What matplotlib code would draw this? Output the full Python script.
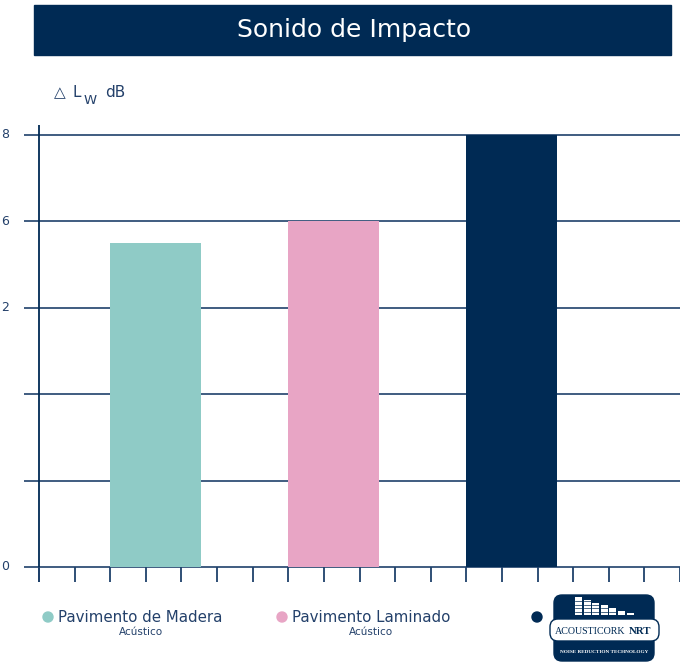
import matplotlib
matplotlib.use("Agg")
import matplotlib.pyplot as plt
from matplotlib.patches import Rectangle, FancyBboxPatch, Circle
import matplotlib.transforms as mtransforms

# ---- data ----
title = "Sonido de Impacto"
categories = ["Pavimento de Madera", "Pavimento Laminado", "Acousticork NRT"]
subtitles = ["Acústico", "Acústico", ""]
values = [3.75, 4.0, 5.0]            # in grid units (one unit per gridline)
bar_left = [2, 7, 12]                # left edge in tick units
bar_colors = ["#8fcbc6", "#e8a5c5", "#002a54"]
ytick_pos = [5, 4, 3, 0]
ytick_labels = ["8", "6", "2", "0"]
grid_levels = [0, 1, 2, 3, 4, 5]
n_ticks = 18

NAVY = "#002a54"
GRID = "#1f416b"
TEXT = "#23406a"

W, H = 699, 663
fig = plt.figure(figsize=(W / 100, H / 100), dpi=100)

# main axes in pixel geometry
ax_l, ax_r, ax_t, ax_b = 24, 680, 125, 582
ax = fig.add_axes([ax_l / W, 1 - ax_b / H, (ax_r - ax_l) / W, (ax_b - ax_t) / H])
x0_px, unit_x = 39, (680 - 39) / n_ticks
y0_px, unit_y = 567, (567 - 135) / 5
ax.set_xlim(-(x0_px - ax_l) / unit_x, n_ticks)
ax.set_ylim(-(ax_b - y0_px) / unit_y, 5 + (135 - ax_t) / unit_y)
for s in ax.spines.values():
    s.set_visible(False)
ax.set_xticks([])
ax.set_yticks([])
ax.patch.set_alpha(0)

xmin, xmax = ax.get_xlim()
ymin, ymax = ax.get_ylim()
ax.hlines(grid_levels, xmin, xmax, colors=GRID, lw=1.2, zorder=1)
ax.vlines(0, ymin, ymax, colors=NAVY, lw=1.3, zorder=1)
ax.vlines(range(n_ticks + 1), ymin, 0, colors=GRID, lw=1.3, zorder=1)
ax.bar(bar_left, values, width=2.556, align="edge", color=bar_colors, zorder=2, linewidth=0)

trans = mtransforms.blended_transform_factory(fig.transFigure, ax.transData)
for p, lab in zip(ytick_pos, ytick_labels):
    ax.text(1 / W, p, lab, transform=trans, ha="left", va="center",
            fontsize=9, color=TEXT)

# overlay axes in pixel coordinates for decorations
ov = fig.add_axes([0, 0, 1, 1], zorder=5)
ov.set_xlim(0, W)
ov.set_ylim(H, 0)
ov.axis("off")
ov.patch.set_alpha(0)

ov.add_patch(Rectangle((34, 5), 637, 50, color=NAVY))
ov.text(354, 30, title, color="white", fontsize=18, ha="center", va="center",
        fontfamily="DejaVu Sans")

ov.text(54, 97, "△", color=TEXT, fontsize=11, ha="left", va="baseline")
ov.text(72, 97, "L", color=TEXT, fontsize=11, ha="left", va="baseline")
ov.text(84, 104, "W", color=TEXT, fontsize=9.5, ha="left", va="baseline")
ov.text(105, 97, "dB", color=TEXT, fontsize=11, ha="left", va="baseline")

# legend
leg_x = [48, 282, 537]
for i, (cx, c) in enumerate(zip(leg_x, bar_colors)):
    ov.add_patch(Circle((cx, 617), 5, color=c))
for cx, name, sub, sc in zip(leg_x[:2], categories[:2], subtitles[:2], [141, 371]):
    ov.text(cx + 10, 617, name, color=TEXT, fontsize=10.8, ha="left", va="center")
    ov.text(sc, 632, sub, color=TEXT, fontsize=7.5, ha="center", va="center")

# logo
ov.add_patch(FancyBboxPatch((554, 595), 100, 66, boxstyle="round,pad=0,rounding_size=8",
                            color=NAVY))
logo_bars = [18, 15, 12, 10, 7, 4, 2]
for i, h in enumerate(logo_bars):
    bx = 575 + i * 8.6
    ov.add_patch(Rectangle((bx, 615 - h), 7, h, color="white", lw=0))
    k = 615 - 3.5
    while k > 615 - h + 0.5:
        ov.plot([bx, bx + 7], [k, k], color=NAVY, lw=0.5)
        k -= 3.5
ov.add_patch(FancyBboxPatch((550, 619), 109, 22, boxstyle="round,pad=0,rounding_size=8",
                            facecolor="white", edgecolor=NAVY, lw=1))
ov.text(590, 631, "ACOUSTICORK", color=NAVY, fontsize=7.2, ha="center", va="center",
        fontfamily="Liberation Serif")
ov.text(640, 631, "NRT", color=NAVY, fontsize=7.8, ha="center", va="center",
        fontfamily="Liberation Serif", fontweight="bold")
ov.text(604, 652, "NOISE REDUCTION TECHNOLOGY", color="white", fontsize=3.8,
        ha="center", va="center", fontfamily="Liberation Serif", fontweight="bold")

fig.savefig("out.png", dpi=100)
